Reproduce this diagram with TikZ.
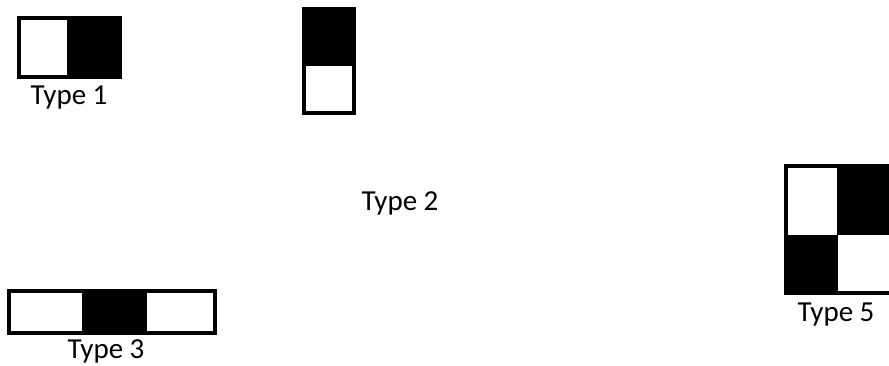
\documentclass[tikz,border=0pt]{standalone}
\usepackage{fontspec}
\setmainfont{Carlito}
\usetikzlibrary{positioning}

\begin{document}
\begin{tikzpicture}[
    x=1pt, y=-1pt,
    frame/.style={rectangle, draw, line width=4pt, inner sep=0pt},
    label/.style={anchor=base, inner sep=0pt, font=\fontsize{29}{34}\selectfont},
]
\clip (0,0) rectangle (889,365);
\fill[white] (0,0) rectangle (889,365);

% Type 1
\fill (67,17.7) rectangle (120,76.7);
\node[frame, minimum width=101pt, minimum height=59pt] (typeone) at (69.5,47.2) {};
\node[label] (typeonetext) at (69,104) {Type 1};

% Type 2
\fill (304,9) rectangle (354,66);
\node[frame, minimum width=50pt, minimum height=104pt] (typetwo) at (329,61) {};
\node[label] (typetwotext) at (400,210) {Type 2};

% Type 3
\fill (82,291) rectangle (147,333);
\node[frame, minimum width=206pt, minimum height=42pt] (typethree) at (112,312) {};
\node[label] (typethreetext) at (106,358) {Type 3};

% Type 5
\fill (837,166) rectangle (895,235);
\fill (786,235) rectangle (838,293);
\node[frame, minimum width=109pt, minimum height=127pt] (typefive) at (840.5,229.5) {};
\node[label] (typefivetext) at (836,321) {Type 5};
\end{tikzpicture}
\end{document}
